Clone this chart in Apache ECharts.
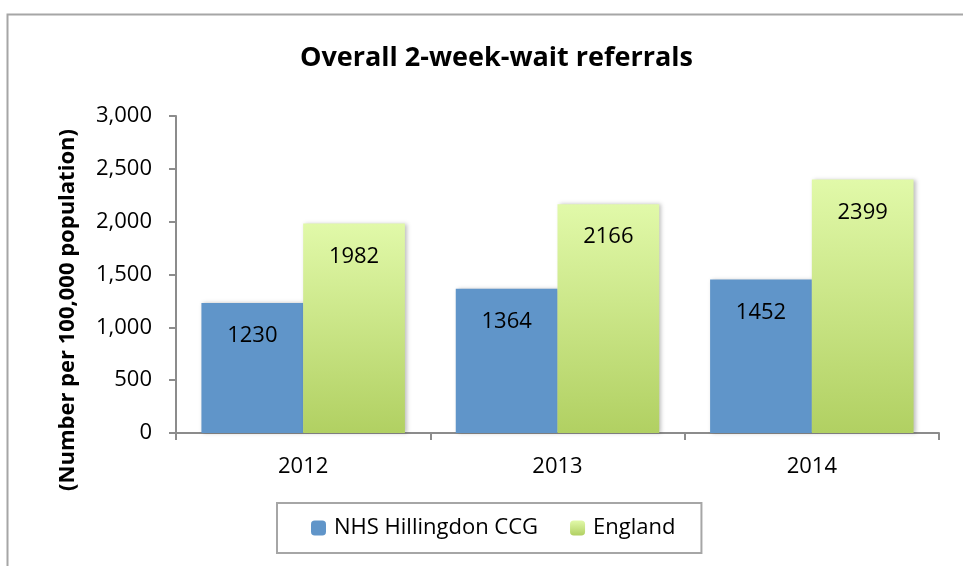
<!DOCTYPE html>
<html>
<head>
<meta charset="utf-8">
<script src="https://cdn.jsdelivr.net/npm/echarts@6/dist/echarts.min.js"></script>
<style>
  html, body { margin: 0; padding: 0; background: #fff; }
  #chart { width: 963px; height: 566px; }
</style>
</head>
<body>
<div id="chart"></div>
<script>
// chart data
var years = ['2012', '2013', '2014'];
var hillingdon = [1230, 1364, 1452];
var england = [1982, 2166, 2399];
var yTicks = [0, 500, 1000, 1500, 2000, 2500, 3000];

var font = '"Open Sans", "Liberation Sans", sans-serif';

var greenFill = new echarts.graphic.LinearGradient(0, 0, 0, 1, [
    { offset: 0, color: '#e1f9a9' },
    { offset: 1, color: '#b1d062' }
]);

var chart = echarts.init(document.getElementById('chart'));

var option = {
    backgroundColor: '#ffffff',
    animation: false,
    textStyle: { fontFamily: font },
    title: {
        text: 'Overall 2-week-wait referrals',
        left: 295,
        top: 40,
        textStyle: { fontSize: 27, fontWeight: 'bold', color: '#000', fontFamily: font }
    },
    legend: {
        bottom: 13,
        left: 277,
        padding: [14, 26, 14, 34],
        itemGap: 32,
        itemWidth: 15,
        itemHeight: 15,
        borderColor: '#a6a6a6',
        borderWidth: 2,
        textStyle: { fontSize: 22, color: '#000', fontFamily: font, padding: [0, 0, 0, 3] },
        data: ['NHS Hillingdon CCG', 'England']
    },
    grid: { left: 176, right: 24, top: 116, bottom: 133 },
    xAxis: {
        type: 'category',
        data: years,
        axisLine: { lineStyle: { color: '#8c8c8c', width: 2 } },
        axisTick: { show: true, length: 7, lineStyle: { color: '#8c8c8c', width: 2 } },
        axisLabel: { fontSize: 22, color: '#000', margin: 23, fontFamily: font }
    },
    yAxis: {
        type: 'value',
        min: yTicks[0],
        max: yTicks[yTicks.length - 1],
        interval: 500,
        axisLine: { show: true, lineStyle: { color: '#8c8c8c', width: 2 } },
        axisTick: { show: true, length: 7, lineStyle: { color: '#8c8c8c', width: 2 } },
        splitLine: { show: false },
        axisLabel: {
            fontSize: 22, color: '#000', margin: 24, fontFamily: font,
            formatter: function (v) { return v.toLocaleString('en-US'); }
        }
    },
    series: [{
        name: 'NHS Hillingdon CCG',
        type: 'bar',
        data: hillingdon,
        barGap: '0%',
        barCategoryGap: '20%',
        itemStyle: {
            color: '#6095c9',
            shadowBlur: 4,
            shadowOffsetX: 2,
            shadowColor: 'rgba(0,0,0,0.25)'
        },
        label: {
            show: true, position: 'insideTop', distance: 22,
            fontSize: 22, color: '#000', fontFamily: font
        }
    }, {
        name: 'England',
        type: 'bar',
        data: england,
        barGap: '0%',
        barCategoryGap: '20%',
        itemStyle: {
            color: greenFill,
            shadowBlur: 4,
            shadowOffsetX: 2,
            shadowColor: 'rgba(0,0,0,0.25)'
        },
        label: {
            show: true, position: 'insideTop', distance: 22,
            fontSize: 22, color: '#000', fontFamily: font
        }
    }],
    graphic: [{
        type: 'rect',
        left: 5, top: 12,
        shape: { width: 980, height: 600 },
        style: { fill: null, stroke: '#a6a6a6', lineWidth: 2 },
        z: -1
    }, {
        type: 'text',
        x: 68, y: 310,
        rotation: Math.PI / 2,
        style: {
            text: '(Number per 100,000 population)',
            fontSize: 22, fontWeight: 'bold', fill: '#000', fontFamily: font,
            align: 'center', verticalAlign: 'middle'
        }
    }]
};

chart.setOption(option);
</script>
</body>
</html>
